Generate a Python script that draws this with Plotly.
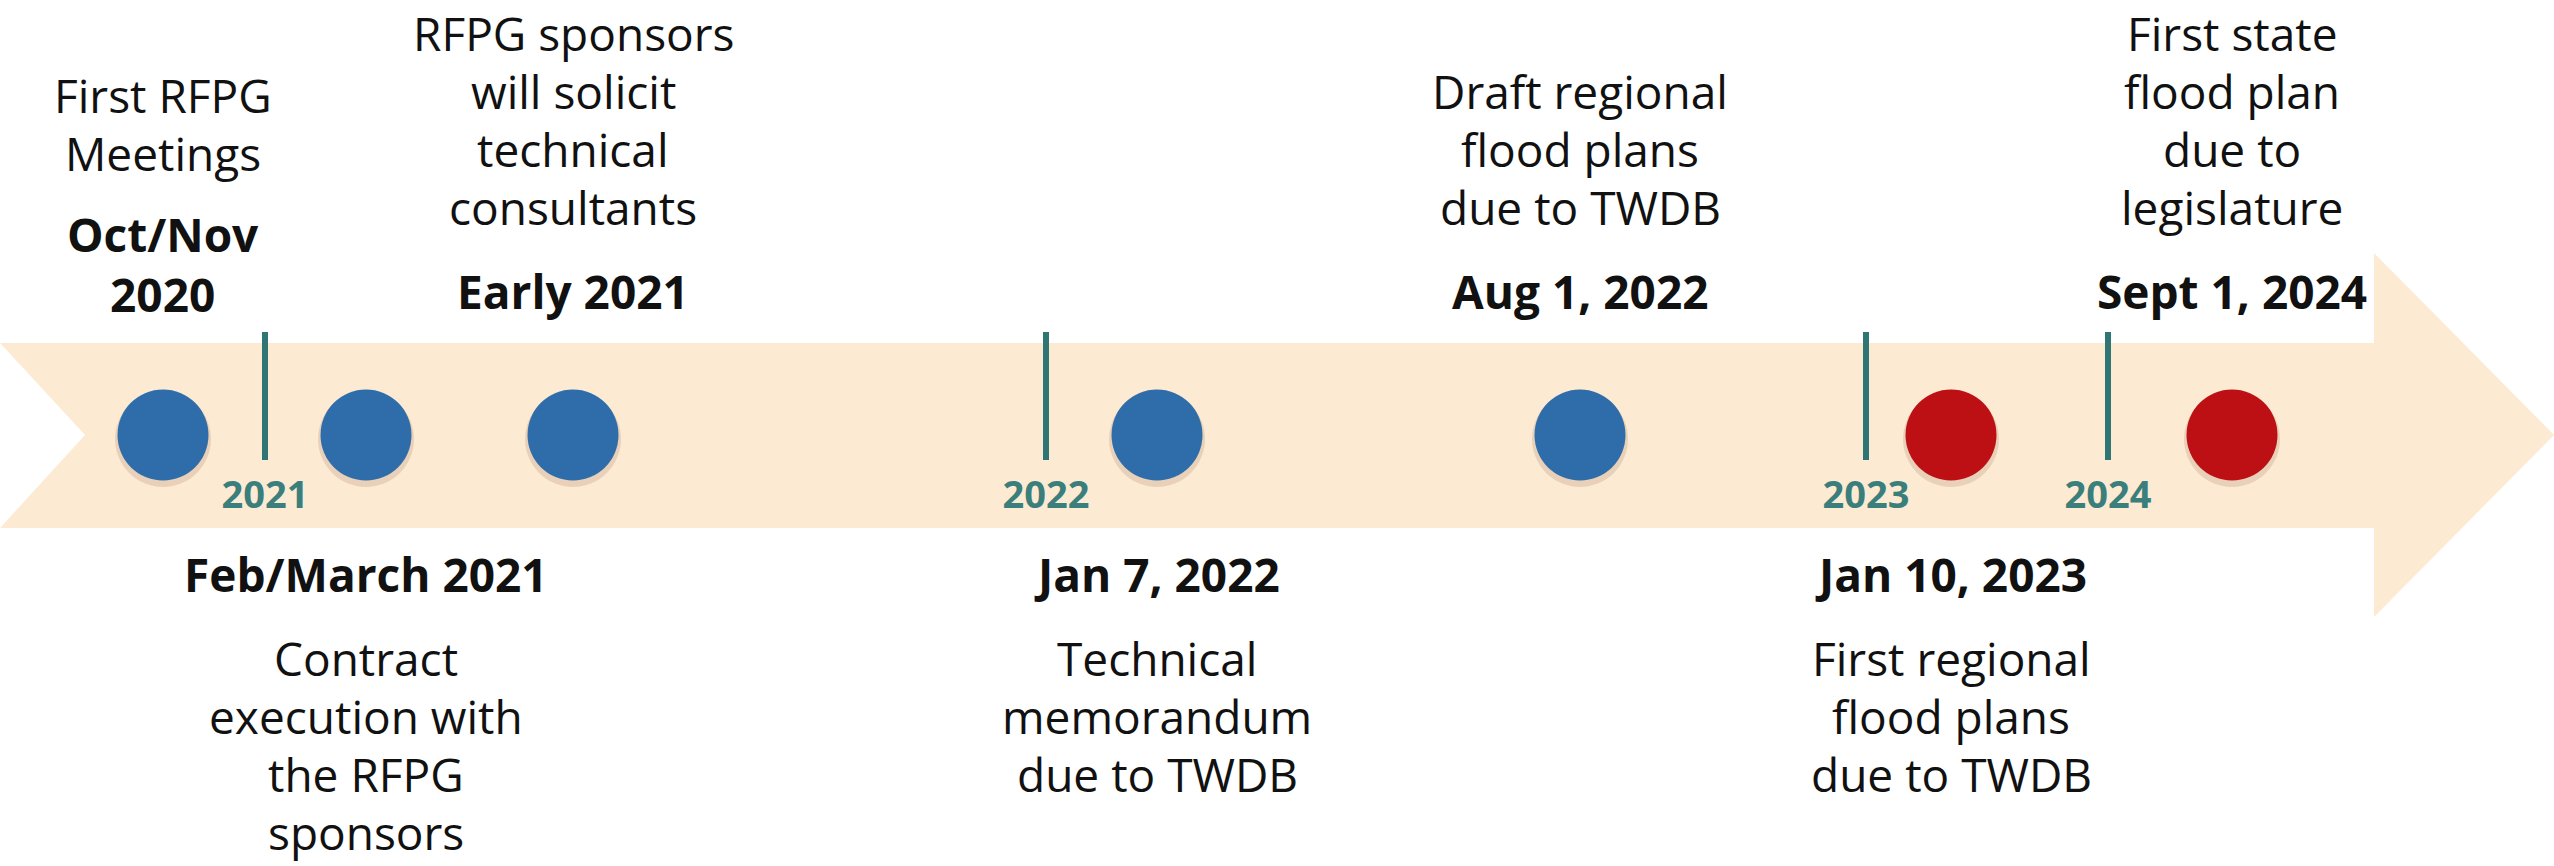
import plotly.graph_objects as go

W, H = 2554, 866

# ---------------- data ----------------
event_pos = [163, 366, 573, 1157, 1580, 1951, 2232]
event_date = ["Oct/Nov<br>2020", "Feb/March 2021", "Early 2021", "Jan 7, 2022",
              "Aug 1, 2022", "Jan 10, 2023", "Sept 1, 2024"]
event_desc = ["First RFPG<br>Meetings",
              "Contract<br>execution with<br>the RFPG<br>sponsors",
              "RFPG sponsors<br>will solicit<br>technical<br>consultants",
              "Technical<br>memorandum<br>due to TWDB",
              "Draft regional<br>flood plans<br>due to TWDB",
              "First regional<br>flood plans<br>due to TWDB",
              "First state<br>flood plan<br>due to<br>legislature"]
event_side = ["top", "bottom", "top", "bottom", "top", "bottom", "top"]
event_kind = ["interim", "interim", "interim", "interim", "interim", "final", "final"]
year_label = ["2021", "2022", "2023", "2024"]
year_pos = [265, 1046, 1866, 2108]

# ---------------- styling / layout constants ----------------
FONT = "Open Sans"
BAND_COLOR = "#FDEAD3"
TEAL_LINE = "#2F7574"
TEAL_TEXT = "#3A7F7B"
KIND_COLOR = {"interim": "#2F6DAA", "final": "#BC1014"}
AXIS_Y = 435
BAND_TOP, BAND_BOT = 343, 528
NOTCH_X = 85
HEAD_X, HEAD_TOP, HEAD_BOT = 2374, 253, 617
TICK_TOP, TICK_BOT = 332, 460
YEAR_Y = 498
FS = 46          # text size
FS_YEAR = 38
LS_DESC = 58     # line spacing description
LS_DATE = 54     # line spacing date
GAP = 84         # date <-> description baseline gap
TOP_DATE_BASE = 307
BOT_DATE_BASE = 590
MID_OFF = 16     # baseline -> annotation middle

fig = go.Figure()

# arrow band
path = (f"M 0,{BAND_TOP} L {HEAD_X},{BAND_TOP} L {HEAD_X},{HEAD_TOP} L {W},{AXIS_Y} "
        f"L {HEAD_X},{HEAD_BOT} L {HEAD_X},{BAND_BOT} L 0,{BAND_BOT} L {NOTCH_X},{AXIS_Y} Z")
fig.add_shape(type="path", path=path, fillcolor=BAND_COLOR, line=dict(width=0), layer="below")

# year ticks
for p in year_pos:
    fig.add_trace(go.Scatter(x=[p, p], y=[TICK_TOP, TICK_BOT], mode="lines",
                             line=dict(color=TEAL_LINE, width=6), hoverinfo="skip"))
fig.add_trace(go.Scatter(x=year_pos, y=[YEAR_Y] * len(year_pos), mode="text",
                         text=[f"<b>{t}</b>" for t in year_label],
                         textfont=dict(family=FONT, size=FS_YEAR, color=TEAL_TEXT),
                         textposition="middle center", hoverinfo="skip"))

# circle shadows + circles
fig.add_trace(go.Scatter(x=event_pos, y=[AXIS_Y + 4] * len(event_pos), mode="markers",
                         marker=dict(size=96, color="rgba(140,100,60,0.18)", line=dict(width=0)),
                         hoverinfo="skip"))
fig.add_trace(go.Scatter(x=event_pos, y=[AXIS_Y] * len(event_pos), mode="markers",
                         marker=dict(size=91, color=[KIND_COLOR[k] for k in event_kind],
                                     line=dict(width=0)),
                         hoverinfo="skip"))

# texts
def add_block(x, first_base, last_base, txt, bold=False):
    mid = (first_base + last_base) / 2 - MID_OFF
    fig.add_annotation(x=x, y=mid, text=f"<b>{txt}</b>" if bold else txt,
                       showarrow=False, xanchor="center", yanchor="middle", align="center",
                       font=dict(family=FONT, size=FS, color="#111111"))

def add_line(x, base, txt):
    add_block(x, base, base, txt)

for x, d, desc, side in zip(event_pos, event_date, event_desc, event_side):
    n_date = len(d.split("<br>"))
    tl = desc.split("<br>")
    if side == "top":
        last = TOP_DATE_BASE
        first = last - LS_DATE * (n_date - 1)
        add_block(x, first, last, "<br>".join(f"<b>{s}</b>" for s in d.split("<br>")))
        top_desc = first - GAP
        for i, t in enumerate(reversed(tl)):
            add_line(x, top_desc - LS_DESC * i, t)
    else:
        first = BOT_DATE_BASE
        last = first + LS_DATE * (n_date - 1)
        add_block(x, first, last, "<br>".join(f"<b>{s}</b>" for s in d.split("<br>")))
        start = last + GAP
        for i, t in enumerate(tl):
            add_line(x, start + LS_DESC * i, t)

fig.update_layout(width=W, height=H, margin=dict(l=0, r=0, t=0, b=0),
                  paper_bgcolor="white", plot_bgcolor="white", showlegend=False,
                  xaxis=dict(range=[0, W], visible=False, fixedrange=True),
                  yaxis=dict(range=[H, 0], visible=False, fixedrange=True))

fig.write_html("out.html", config={"displayModeBar": False},
               post_script="document.body.style.margin='0';document.body.style.overflow='hidden';")
